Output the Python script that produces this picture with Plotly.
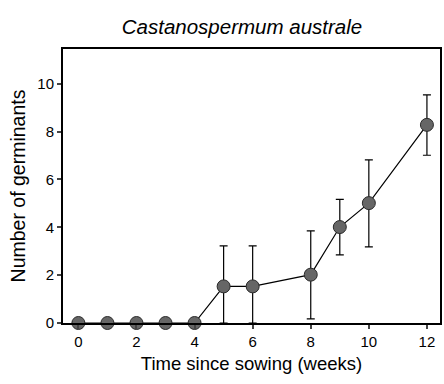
import plotly.graph_objects as go

# Germination counts for Castanospermum australe
weeks = [0, 1, 2, 3, 4, 5, 6, 8, 9, 10, 12]
germinants = [0, 0, 0, 0, 0, 1.53, 1.53, 2.02, 4.01, 5.01, 8.28]
err_plus = [0, 0, 0, 0, 0, 1.69, 1.69, 1.83, 1.16, 1.81, 1.25]
err_minus = [0, 0, 0, 0, 0, 1.53, 1.53, 1.85, 1.16, 1.83, 1.27]

x_ticks = [0, 2, 4, 6, 8, 10, 12]
y_ticks = [0, 2, 4, 6, 8, 10]

fig = go.Figure()
fig.add_trace(go.Scatter(
    x=weeks, y=germinants,
    mode="lines+markers",
    line=dict(color="black", width=1.2),
    marker=dict(size=13, color="#666666", line=dict(color="#2a2a2a", width=1)),
    error_y=dict(type="data", symmetric=False, array=err_plus, arrayminus=err_minus,
                 color="black", thickness=1.2, width=4),
    cliponaxis=False,
    showlegend=False,
))

font_family = "Liberation Sans, Arial, sans-serif"
fig.update_layout(
    width=444, height=384,
    margin=dict(l=63, r=2, t=49, b=61),
    paper_bgcolor="white", plot_bgcolor="white",
    font=dict(family=font_family, color="black", size=15),
    title=dict(text="<i>Castanospermum australe</i>", x=0.545, xanchor="center",
               y=0.93, yanchor="middle", font=dict(size=20.5, family=font_family)),
)
fig.update_xaxes(
    range=[-0.53, 12.45], tickvals=x_ticks, ticks="outside", ticklen=4, tickwidth=1.5,
    showline=True, linecolor="black", linewidth=2, mirror=True, showgrid=False,
    zeroline=False, tickfont=dict(size=15),
    title=dict(text="Time since sowing (weeks)", font=dict(size=18.5), standoff=8),
)
fig.update_yaxes(
    range=[0, 11.45], tickvals=y_ticks, ticks="outside", ticklen=4, tickwidth=1.5,
    showline=True, linecolor="black", linewidth=2, mirror=True, showgrid=False,
    zeroline=False, tickfont=dict(size=15),
    title=dict(text="Number of germinants", font=dict(size=19.5), standoff=6),
)

fig.write_html("out.html")
